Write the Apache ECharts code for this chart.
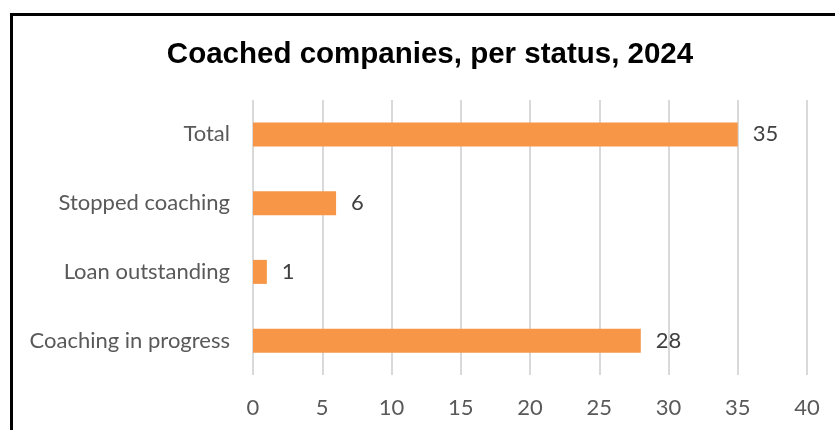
<!DOCTYPE html>
<html>
<head>
<meta charset="utf-8">
<script src="https://cdn.jsdelivr.net/npm/echarts@6/dist/echarts.min.js"></script>
<style>
  html, body { margin: 0; padding: 0; background: #fff; }
  #chart { width: 835px; height: 430px; }
</style>
</head>
<body>
<div id="chart"></div>
<script>
// Status categories, listed bottom to top as drawn on the category axis
const categories = ['Coaching in progress', 'Loan outstanding', 'Stopped coaching', 'Total'];
const companyCounts = [28, 1, 6, 35];
const xTicks = [0, 5, 10, 15, 20, 25, 30, 35, 40];

const labelFont = 'Lato, "Open Sans", sans-serif';
const chart = echarts.init(document.getElementById('chart'), null, { renderer: 'canvas' });

chart.setOption({
  backgroundColor: '#ffffff',
  animation: false,
  title: {
    text: 'Coached companies, per status, 2024',
    left: 425,
    textAlign: 'center',
    top: 35,
    textStyle: {
      fontFamily: '"Liberation Sans", Arial, sans-serif',
      fontWeight: 'bold',
      fontSize: 29.5,
      color: '#000000'
    }
  },
  grid: { left: 253, right: 28, top: 100, bottom: 55, containLabel: false },
  xAxis: {
    type: 'value',
    min: xTicks[0],
    max: xTicks[xTicks.length - 1],
    interval: xTicks[1] - xTicks[0],
    axisLine: { show: false },
    axisTick: { show: false },
    splitLine: { show: true, lineStyle: { color: '#d9d9d9', width: 2 } },
    axisLabel: {
      margin: 22,
      fontFamily: labelFont,
      fontSize: 22,
      color: '#595959'
    }
  },
  yAxis: {
    type: 'category',
    data: categories,
    axisLine: { show: false },
    axisTick: { show: false },
    axisLabel: {
      margin: 23,
      fontFamily: labelFont,
      fontSize: 22,
      color: '#595959'
    }
  },
  series: [{
    type: 'bar',
    data: companyCounts,
    barWidth: 24,
    itemStyle: { color: '#F79646' },
    label: {
      show: true,
      position: 'right',
      distance: 15,
      fontFamily: labelFont,
      fontSize: 22,
      color: '#404040'
    }
  }],
  graphic: [{
    type: 'polyline',
    shape: { points: [[11.5, 440], [11.5, 14.5], [845, 14.5]] },
    style: { stroke: '#000000', lineWidth: 3, fill: null },
    silent: true
  }]
});
</script>
</body>
</html>
